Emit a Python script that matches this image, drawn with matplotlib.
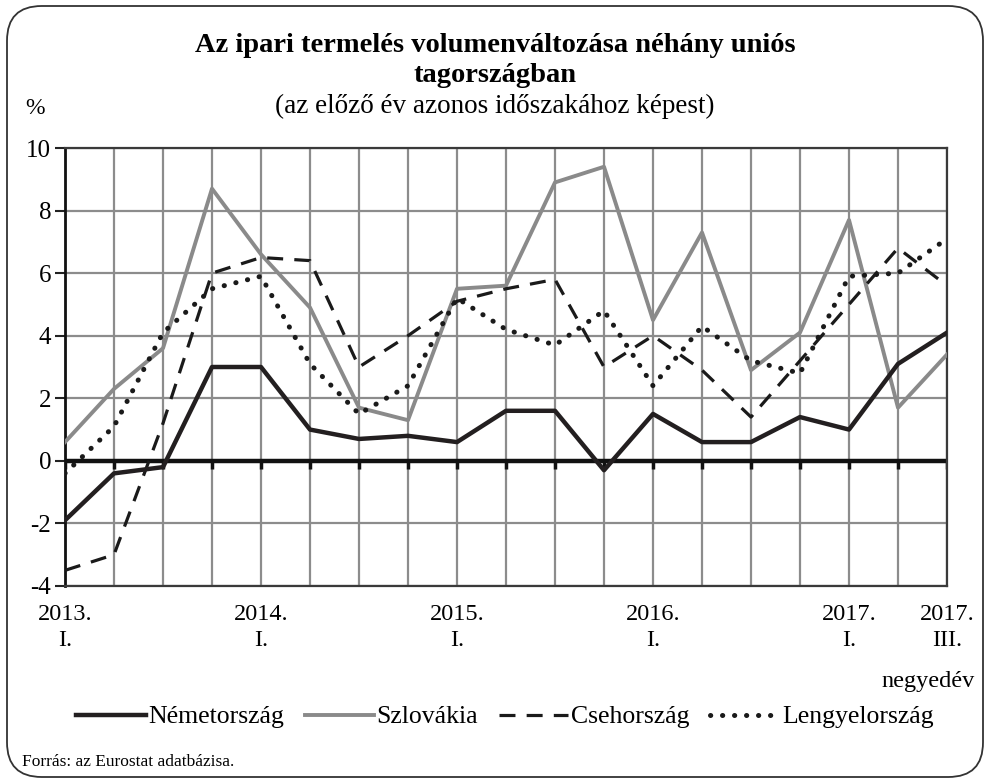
import matplotlib.pyplot as plt
import numpy as np
from matplotlib.patches import FancyBboxPatch

plt.rcParams["font.family"] = ["Liberation Serif", "DejaVu Serif"]
plt.rcParams["axes.unicode_minus"] = False

# Quarters 2013 Q1 .. 2017 Q3
quarters = np.arange(19)
tick_labels = ["2013.\nI.", "", "", "", "2014.\nI.", "", "", "", "2015.\nI.", "", "", "",
               "2016.\nI.", "", "", "", "2017.\nI.", "", "2017.\nIII."]

germany = [-1.9, -0.4, -0.2, 3.0, 3.0, 1.0, 0.7, 0.8, 0.6, 1.6, 1.6, -0.3, 1.5, 0.6, 0.6, 1.4, 1.0, 3.1, 4.1]
slovakia = [0.6, 2.3, 3.6, 8.7, 6.6, 4.9, 1.7, 1.3, 5.5, 5.6, 8.9, 9.4, 4.5, 7.3, 2.9, 4.1, 7.7, 1.7, 3.4]
czechia = [-3.5, -3.0, 1.2, 6.0, 6.5, 6.4, 3.0, 4.0, 5.1, 5.5, 5.8, 3.0, 4.0, 2.9, 1.4, 3.2, 5.0, 6.8, 5.6]
poland = [-0.4, 1.1, 4.1, 5.5, 5.9, 3.1, 1.5, 2.4, 5.2, 4.2, 3.7, 4.8, 2.4, 4.3, 3.2, 2.8, 5.9, 6.0, 7.1]

W, H = 990, 783
fig = plt.figure(figsize=(W / 100, H / 100), dpi=100)

# rounded outer frame
frame = FancyBboxPatch((7 / W, 6 / H), (W - 14) / W, (H - 12) / H,
                       boxstyle="round,pad=0,rounding_size=0.035",
                       transform=fig.transFigure, facecolor="none",
                       edgecolor="#333333", linewidth=1.3, mutation_aspect=W / H)
fig.patches.append(frame)

ax = fig.add_axes([65 / W, 1 - 586 / H, (947 - 65) / W, (586 - 148) / H])
ax.set_xlim(0, 18)
ax.set_ylim(-4, 10)

grid_c = "#8c8c8c"
ax.set_yticks(np.arange(-4, 11, 2))
ax.set_xticks(quarters, tick_labels)
ax.grid(True, color=grid_c, linewidth=1.6, zorder=0)
ax.set_axisbelow(True)

ax.tick_params(axis="y", length=7, width=1.5, color="#222222", labelsize=18, pad=3)
ax.tick_params(axis="x", length=0, labelsize=17.5, pad=13)
for lab in ax.get_xticklabels():
    lab.set_linespacing(1.3)

for side in ["top", "right", "bottom"]:
    ax.spines[side].set_color("#3a3a3a")
    ax.spines[side].set_linewidth(1.6)
ax.spines["left"].set_color("#111111")
ax.spines["left"].set_linewidth(2)

# zero line with small ticks below it
ax.axhline(0, color="#111111", linewidth=3.2, zorder=2)
ax.plot(quarters, np.zeros(len(quarters)), linestyle="none", marker=3,
        markersize=6, markeredgewidth=2.5, color="#111111", zorder=2)

ax.plot(quarters, germany, color="#231f20", linewidth=3.2, label="Németország", zorder=4)
ax.plot(quarters, slovakia, color="#8a8a8a", linewidth=2.8, label="Szlovákia", zorder=3)
ax.plot(quarters, czechia, color="#1a1a1a", linewidth=2.3, linestyle=(0, (5, 3.5)),
        label="Csehország", zorder=3)
ax.plot(quarters, poland, color="#1a1a1a", linewidth=3.6, linestyle=(0, (0.05, 2.35)),
        dash_capstyle="round", label="Lengyelország", zorder=3)

fig.text(0.5, 1 - 46 / H, "Az ipari termelés volumenváltozása néhány uniós",
         ha="center", va="center", fontsize=20.5, fontweight="bold")
fig.text(0.5, 1 - 76 / H, "tagországban", ha="center", va="center",
         fontsize=20.5, fontweight="bold")
fig.text(0.5, 1 - 106 / H, "(az előző év azonos időszakához képest)",
         ha="center", va="center", fontsize=19.5)
fig.text(35 / W, 1 - 108 / H, "%", ha="center", va="center", fontsize=17)
fig.text(975 / W, 1 - 681 / H, "negyedév", ha="right", va="center", fontsize=17.5)

fig.legend(loc="center", bbox_to_anchor=(0.51, 1 - 717 / H), ncol=4, frameon=False,
           fontsize=18.5, handlelength=2.7, handletextpad=0.1, columnspacing=0.8)

fig.text(22 / W, 1 - 762 / H, "Forrás: az Eurostat adatbázisa.", ha="left",
         va="center", fontsize=12.5)

fig.savefig("out.png", dpi=100)
